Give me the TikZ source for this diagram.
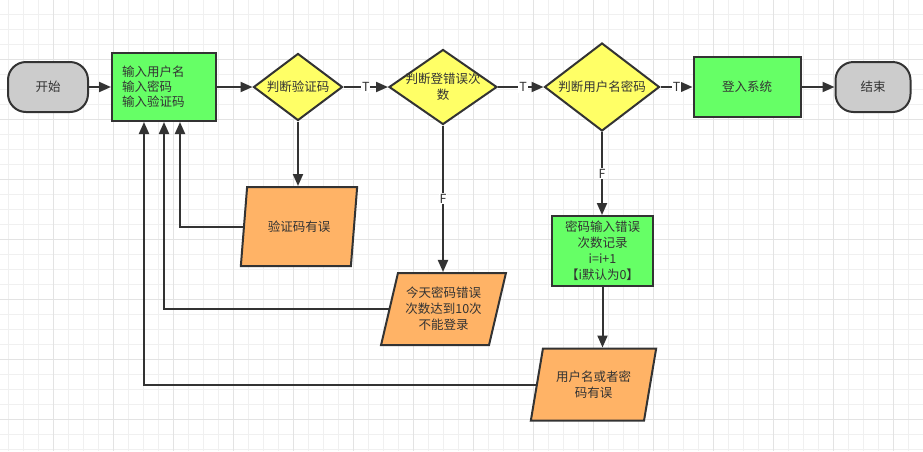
\documentclass[tikz,border=0pt]{standalone}
\usepackage{fontspec}
\setmainfont{Noto Sans CJK SC}
\usetikzlibrary{arrows.meta,shapes.geometric}

\definecolor{startgray}{HTML}{CCCCCC}
\definecolor{stepgreen}{HTML}{66FF66}
\definecolor{askyellow}{HTML}{FFFF66}
\definecolor{erroramber}{HTML}{FFB366}
\definecolor{edgegray}{HTML}{333333}
\definecolor{gridminor}{HTML}{F0F0F0}
\definecolor{gridmajor}{HTML}{E3E3E3}

\begin{document}
\begin{tikzpicture}[x=1pt, y=-1pt, font=\fontsize{12.5}{16}\selectfont, text=edgegray]
        \tikzset{
            terminal/.style={rectangle, rounded corners=18pt, draw=edgegray, fill=startgray, line width=2pt, minimum width=80pt, minimum height=50pt, align=center},
            process/.style={rectangle, draw=edgegray, fill=stepgreen, line width=2pt, inner sep=0pt, align=center},
            decision/.style={diamond, aspect=1.3, draw=edgegray, fill=askyellow, line width=2pt, inner sep=0pt, align=center},
            ioerror/.style={trapezium, trapezium left angle=72, trapezium right angle=108, trapezium stretches=true, draw=edgegray, fill=erroramber, line width=2pt, inner sep=0pt, align=center},
            myarrow/.style={-{Triangle[length=12pt, width=10pt]}, draw=edgegray, line width=2pt},
            mylabel/.style={fill=white, inner sep=1pt, text=edgegray}
        }
        % background and grid
        \useasboundingbox (0,0) rectangle (923,451);
        \fill[white] (0,0) rectangle (923,451);
        \foreach \gx in {8,23,...,923} \draw[gridminor, line width=1pt] (\gx,0) -- (\gx,451);
        \foreach \gy in {14,29,...,451} \draw[gridminor, line width=1pt] (0,\gy) -- (923,\gy);
        \foreach \gx in {53,113,...,923} \draw[gridmajor, line width=1pt] (\gx,0) -- (\gx,451);
        \foreach \gy in {59,119,...,451} \draw[gridmajor, line width=1pt] (0,\gy) -- (923,\gy);

        % main row
        \node[terminal] (start) at (48,87) {开始};
        \node[process, minimum width=104pt, minimum height=68pt, text width=84pt, inner xsep=10pt, align=left, font=\fontsize{12.5}{15}\selectfont] (input) at (164,87) {输入用户名\\输入密码\\输入验证码};
        \node[decision, aspect=1.32, minimum width=89pt, minimum height=67pt] (checkcode) at (298,87) {判断验证码};
        \node[decision, aspect=1.43, minimum width=108pt, minimum height=75pt, inner sep=-6pt] (checkcount) at (443,87) {判断登错误次\\数};
        \node[decision, aspect=1.3, minimum width=115pt, minimum height=88pt] (checkpwd) at (602,87) {判断用户名密码};
        \node[process, minimum width=107pt, minimum height=60pt] (login) at (747,87) {登入系统};
        \node[terminal, minimum width=75pt] (finish) at (873,87) {结束};

        % error branches
        \node[ioerror, minimum width=117pt, minimum height=79pt] (codeerr) at (299,226.5) {验证码有误};
        \node[ioerror, minimum width=125pt, minimum height=72pt] (lockout) at (443.5,309) {今天密码错误\\次数达到10次\\不能登录};
        \node[process, minimum width=101pt, minimum height=70pt] (counter) at (602.5,251) {密码输入错误\\次数记录\\i=i+1\\【i默认为0】};
        \node[ioerror, minimum width=126pt, minimum height=72pt] (pwderr) at (593.5,384.5) {用户名或者密\\码有误};

        \draw[myarrow] (start) -- (input);
        \draw[myarrow] (input) -- (checkcode);
        \draw[myarrow] (checkcode) -- node[mylabel]{T} (checkcount);
        \draw[myarrow] (checkcount) -- node[mylabel, pos=0.55]{T} (checkpwd);
        \draw[myarrow] (checkpwd) -- node[mylabel]{T} (login);
        \draw[myarrow] (login) -- (finish);
        \draw[myarrow] (checkcode.south) -- (checkcode.south |- codeerr.north);
        \draw[myarrow] (checkcount.south) -- node[mylabel]{F} (checkcount.south |- lockout.north);
        \draw[myarrow] (checkpwd.south) -- node[mylabel]{F} (checkpwd.south |- counter.north);
        \draw[myarrow] (counter.south) -- (counter.south |- pwderr.north);
        \draw[myarrow] (codeerr.west) -| ([xshift=16pt]input.south);
        \draw[myarrow] (lockout.west) -| (input.south);
        \draw[myarrow] (pwderr.west) -| ([xshift=-20pt]input.south);
\end{tikzpicture}
\end{document}
